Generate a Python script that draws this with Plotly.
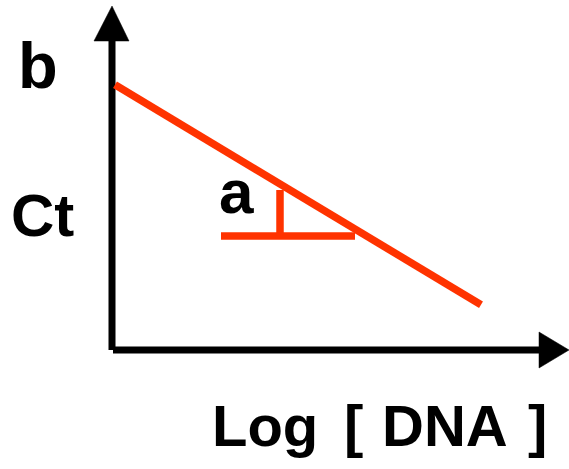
import plotly.graph_objects as go

# Schematic standard curve: Ct = b + a * log[DNA]  (arbitrary units)
intercept_b = 26.7
slope_a = -0.601
line_x = [0.3, 36.9]
line_y = [intercept_b + slope_a * x for x in line_x]

# slope triangle
tri_h_x = [10.9, 24.3]
tri_h_y = [11.4, 11.4]
tri_v_x = [16.8, 16.8]
tri_v_y = [11.4, 16.0]

# axes (with arrowheads)
yaxis_line_x = [0, 0]
yaxis_line_y = [0, 31.5]
xaxis_line_x = [0.1, 43.0]
xaxis_line_y = [0, 0]
yarrow_x = [-1.8, 0, 1.7, -1.8]
yarrow_y = [30.9, 34.4, 30.9, 30.9]
xarrow_x = [42.7, 45.7, 42.7, 42.7]
xarrow_y = [1.8, 0, -1.8, 1.8]

labels = ["b", "Ct", "a", "Log", "[", "DNA", "]"]
label_x = [-7.45, -6.95, 12.45, 15.3, 24.1, 33.25, 42.55]
label_y = [28.5, 13.5, 15.85, -7.55, -7.55, -7.55, -7.55]
label_size = [65, 60, 62, 58, 58, 58, 58]

RED = "#ff3300"
BLACK = "#000000"

fig = go.Figure()
fig.add_trace(go.Scatter(x=yaxis_line_x, y=yaxis_line_y, mode="lines",
                         line=dict(color=BLACK, width=7), hoverinfo="skip"))
fig.add_trace(go.Scatter(x=xaxis_line_x, y=xaxis_line_y, mode="lines",
                         line=dict(color=BLACK, width=7), hoverinfo="skip"))
fig.add_trace(go.Scatter(x=yarrow_x, y=yarrow_y, mode="lines", fill="toself",
                         fillcolor=BLACK, line=dict(color=BLACK, width=0.5), hoverinfo="skip"))
fig.add_trace(go.Scatter(x=xarrow_x, y=xarrow_y, mode="lines", fill="toself",
                         fillcolor=BLACK, line=dict(color=BLACK, width=0.5), hoverinfo="skip"))
fig.add_trace(go.Scatter(x=line_x, y=line_y, mode="lines",
                         line=dict(color=RED, width=7.5), hoverinfo="skip"))
fig.add_trace(go.Scatter(x=tri_h_x, y=tri_h_y, mode="lines",
                         line=dict(color=RED, width=7.5), hoverinfo="skip"))
fig.add_trace(go.Scatter(x=tri_v_x, y=tri_v_y, mode="lines",
                         line=dict(color=RED, width=7.5), hoverinfo="skip"))

for t, x, y, s in zip(labels, label_x, label_y, label_size):
    fig.add_annotation(x=x, y=y, text=f"<b>{t}</b>", showarrow=False,
                       xanchor="center", yanchor="middle",
                       font=dict(family="Liberation Sans, Arial, sans-serif", size=s, color=BLACK))

fig.update_layout(
    width=569, height=469,
    margin=dict(l=0, r=0, t=0, b=0),
    paper_bgcolor="white", plot_bgcolor="white",
    showlegend=False,
    xaxis=dict(range=[-11.2, 45.7], visible=False, fixedrange=True),
    yaxis=dict(range=[-11.9, 35.0], visible=False, fixedrange=True),
)
fig.write_html("out.html", config={"displayModeBar": False},
               post_script="document.body.style.margin='0';")
